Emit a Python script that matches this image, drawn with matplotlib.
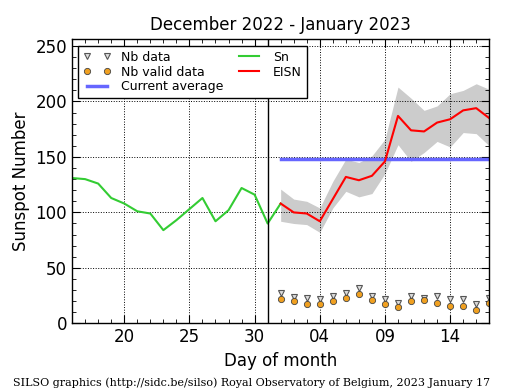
import numpy as np
import matplotlib
matplotlib.use("Agg")
import matplotlib.pyplot as plt

# Daily sunspot number Sn (Dec 16 .. Jan 1, days counted from Dec 1)
sn_days = np.arange(16, 33)
sn_vals = [131, 130, 126, 113, 108, 101, 99, 84, 93, 103, 113, 92, 102, 122, 116, 90, 108]

# Estimated international sunspot number (Jan 1 .. Jan 17)
eisn_days = np.arange(32, 49)
eisn_vals = [108, 100, 99, 92, 112, 132, 129, 133, 146, 187, 174, 173, 181, 184, 192, 194, 185]
eisn_low = [92, 90, 89, 82, 104, 119, 114, 117, 135, 161, 146, 154, 164, 159, 172, 171, 160]
eisn_high = [121, 112, 110, 104, 128, 148, 145, 151, 166, 213, 203, 192, 196, 207, 210, 216, 211]

# number of stations
nb_data = [27, 24, 23, 22, 25, 27, 32, 25, 22, 18, 25, 23, 25, 22, 22, 17, 23]
nb_valid = [22, 20, 17, 17, 20, 23, 26, 21, 17, 15, 20, 21, 18, 16, 16, 12, 18]

current_avg = 148
xtick_pos = [20, 25, 30, 35, 40, 45]
xtick_lab = ["20", "25", "30", "04", "09", "14"]

fig = plt.figure(figsize=(5.15, 3.9), dpi=100)
ax = fig.add_axes([0.140, 0.171, 0.810, 0.728])

ax.fill_between(eisn_days, eisn_low, eisn_high, color="#cccccc", lw=0)
ax.plot(eisn_days, nb_data, ls="none", marker="v", ms=4, mfc="#dddddd", mec="#555555",
        mew=0.8, label="Nb data")
ax.plot(eisn_days, nb_valid, ls="none", marker="o", ms=4.5, mfc="#f0a020", mec="#444444",
        mew=0.6, label="Nb valid data")
ax.plot([eisn_days[0], eisn_days[-1]], [current_avg, current_avg], color="#6666ff", lw=2.5,
        label="Current average")
ax.plot(sn_days, sn_vals, color="#33cc33", lw=1.5, label="Sn")
ax.plot(eisn_days, eisn_vals, color="red", lw=1.5, label="EISN")
ax.axvline(31, color="black", lw=1)

ax.set_xlim(16, 48)
ax.set_ylim(0, 256)
ax.set_xticks(xtick_pos)
ax.set_xticklabels(xtick_lab)
ax.set_xticks(np.arange(16, 49), minor=True)
ax.set_yticks(np.arange(0, 251, 50))
ax.set_yticks(np.arange(0, 256, 10), minor=True)
ax.tick_params(which="both", direction="in", top=True, right=True, labelsize=12)
ax.tick_params(which="major", length=6)
ax.tick_params(which="minor", length=3)
ax.grid(True, which="major", color="black", ls=":", lw=0.7)
for s in ax.spines.values():
    s.set_linewidth(1)

ax.set_xlabel("Day of month", fontsize=12)
ax.set_ylabel("Sunspot Number", fontsize=12)
ax.set_title("December 2022 - January 2023", fontsize=12, pad=7)

leg = ax.legend(loc="upper left", ncol=2, fontsize=9, numpoints=2, fancybox=False,
                framealpha=1, edgecolor="black", borderaxespad=0.5, handlelength=2.2,
                columnspacing=1.0, labelspacing=0.15)
leg.get_frame().set_linewidth(1)

fig.text(0.025, 0.01, "SILSO graphics (http://sidc.be/silso) Royal Observatory of Belgium, 2023 January 17",
         family="DejaVu Serif", fontsize=8)

fig.savefig("out.png", dpi=100)
